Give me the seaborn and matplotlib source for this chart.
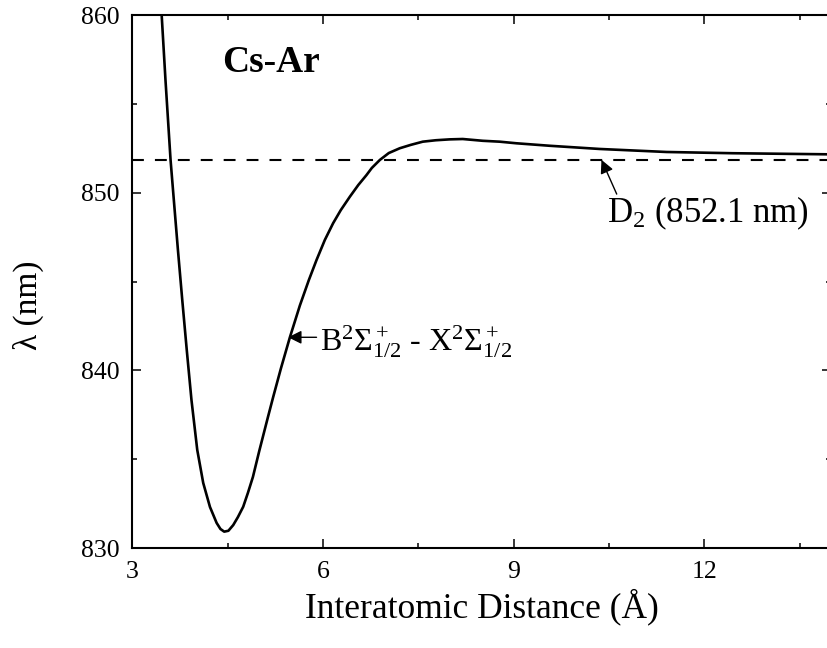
import matplotlib
matplotlib.use("Agg")
import matplotlib.pyplot as plt
import seaborn as sns
import pandas as pd

# ---- data ----
distance = [3.40, 3.459, 3.519, 3.599, 3.640, 3.715, 3.783, 3.854, 3.928, 4.019,
            4.113, 4.219, 4.324, 4.384, 4.443, 4.509, 4.585, 4.659, 4.742, 4.816,
            4.895, 4.994, 5.130, 5.214, 5.335, 5.476, 5.634, 5.775, 5.896, 6.027,
            6.157, 6.278, 6.420, 6.553, 6.682, 6.766, 6.892, 7.033, 7.206, 7.379,
            7.568, 7.772, 7.992, 8.197, 8.511, 8.778, 9.041, 9.564, 10.350, 11.404,
            12.442, 13.920, 14.00]
wavelength = [863.5, 860.00, 856.34, 851.84, 850.04, 846.77, 843.96, 841.14, 838.33, 835.52,
              833.66, 832.31, 831.41, 831.07, 830.92, 830.97, 831.29, 831.74, 832.32, 833.10,
              834.00, 835.45, 837.35, 838.50, 840.10, 841.85, 843.65, 845.08, 846.21, 847.34,
              848.28, 849.02, 849.77, 850.43, 850.99, 851.39, 851.84, 852.23, 852.50, 852.69,
              852.87, 852.95, 853.00, 853.02, 852.92, 852.87, 852.78, 852.64, 852.46, 852.29,
              852.22, 852.16, 852.15]
d2_level = 851.85
x_ticks = [3, 6, 9, 12]
y_ticks = [830, 840, 850, 860]

df = pd.DataFrame({"r": distance, "lam": wavelength})

sns.set_theme(style="ticks")
plt.rcParams["font.family"] = ["Liberation Serif", "DejaVu Serif"]
plt.rcParams["mathtext.fontset"] = "custom"
plt.rcParams["mathtext.rm"] = "Liberation Serif"
plt.rcParams["mathtext.it"] = "Liberation Serif:italic"
plt.rcParams["mathtext.bf"] = "Liberation Serif:bold"
plt.rcParams["text.color"] = "black"
plt.rcParams["axes.labelcolor"] = "black"
plt.rcParams["xtick.color"] = "black"
plt.rcParams["ytick.color"] = "black"

fig = plt.figure(figsize=(8.28, 6.48), dpi=100)
ax = fig.add_axes([132.5 / 828, 100 / 648, 699 / 828, 533 / 648])

sns.lineplot(data=df, x="r", y="lam", ax=ax, color="black", lw=1.9, sort=False,
             solid_joinstyle="round")
ax.axhline(d2_level, color="black", lw=1.5, dashes=(5.7, 5.3))

ax.set_xlim(3, 14)
ax.set_ylim(830, 860)
ax.set_xticks(x_ticks)
ax.set_yticks(y_ticks)
ax.set_xticks([4.5, 7.5, 10.5, 13.5], minor=True)
ax.set_yticks([835, 845, 855], minor=True)
ax.tick_params(which="both", direction="in", top=True, right=True, colors="black",
               labelcolor="black", labelsize=18.5, width=1.1)
ax.tick_params(which="major", length=6.5, pad=9)
ax.tick_params(which="minor", length=3.6)
for s in ax.spines.values():
    s.set_linewidth(1.5)
    s.set_color("black")

ax.set_xlabel("Interatomic Distance (Å)", fontsize=25.5, labelpad=4, color="black")
ax.set_ylabel("λ (nm)", fontsize=24, color="black")
ax.yaxis.set_label_coords(-0.126, 0.455)

ax.text(4.41, 856.79, "Cs-Ar", fontsize=27, fontweight="bold", ha="left", va="baseline",
        color="black")

# D2 annotation
ax.annotate("", xy=(10.38, d2_level), xytext=(10.62, 849.92),
            arrowprops=dict(arrowstyle="-|>", color="black", lw=1.0, mutation_scale=20,
                            shrinkA=0, shrinkB=0))
ax.text(10.46, 848.35, r"D$_2$ (852.1 nm)", fontsize=25, ha="left", va="baseline",
        color="black")

# transition annotation
ax.annotate("", xy=(5.45, 841.86), xytext=(5.896, 841.86),
            arrowprops=dict(arrowstyle="-|>", color="black", lw=1.0, mutation_scale=20,
                            shrinkA=0, shrinkB=0))
ax.text(5.95, 841.14, r"B$^2\Sigma^+_{1/2}$ - X$^2\Sigma^+_{1/2}$", fontsize=23,
        ha="left", va="baseline", color="black")

fig.savefig("out.png", dpi=100)
